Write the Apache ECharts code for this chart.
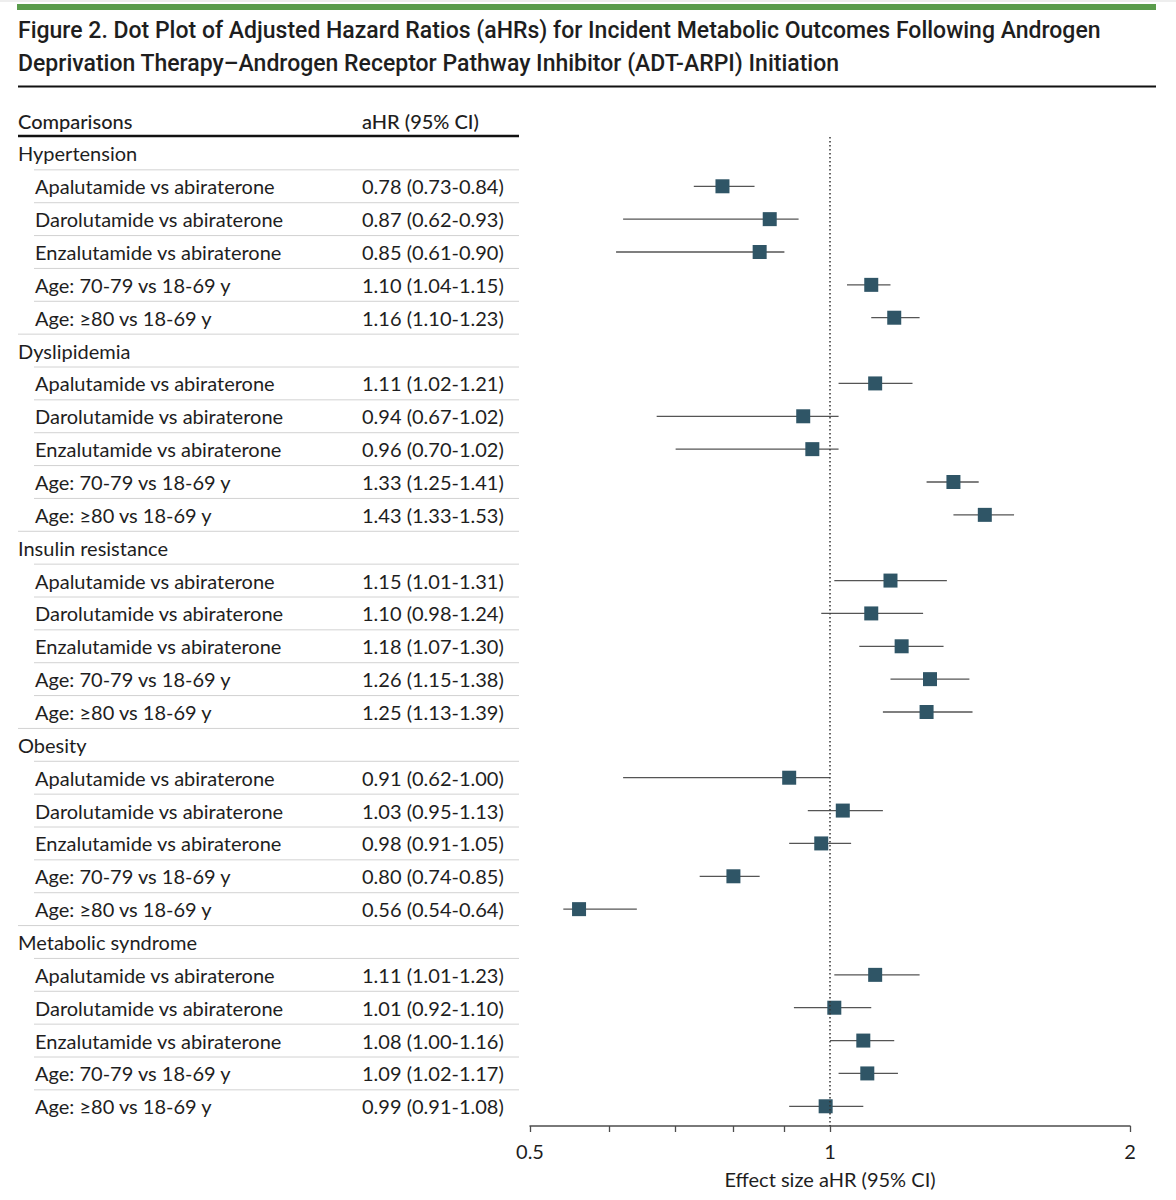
<!DOCTYPE html>
<html>
<head>
<meta charset="utf-8">
<script src="https://cdn.jsdelivr.net/npm/echarts@6/dist/echarts.min.js"></script>
<style>
  html, body { margin: 0; padding: 0; background: #fff; }
  #chart { width: 1176px; height: 1200px; }
</style>
</head>
<body>
<div id="chart"></div>
<script>
  const outcomes = ['Hypertension', 'Dyslipidemia', 'Insulin resistance', 'Obesity', 'Metabolic syndrome']
  const comparisons = ['Apalutamide vs abiraterone', 'Darolutamide vs abiraterone', 'Enzalutamide vs abiraterone',
    'Age: 70-79 vs 18-69 y', 'Age: ≥80 vs 18-69 y']
  // one row per outcome, columns follow comparisons
  const ahr = [
    [0.78, 0.87, 0.85, 1.10, 1.16],
    [1.11, 0.94, 0.96, 1.33, 1.43],
    [1.15, 1.10, 1.18, 1.26, 1.25],
    [0.91, 1.03, 0.98, 0.80, 0.56],
    [1.11, 1.01, 1.08, 1.09, 0.99]
  ]
  const ciLow = [
    [0.73, 0.62, 0.61, 1.04, 1.10],
    [1.02, 0.67, 0.70, 1.25, 1.33],
    [1.01, 0.98, 1.07, 1.15, 1.13],
    [0.62, 0.95, 0.91, 0.74, 0.54],
    [1.01, 0.92, 1.00, 1.02, 0.91]
  ]
  const ciHigh = [
    [0.84, 0.93, 0.90, 1.15, 1.23],
    [1.21, 1.02, 1.02, 1.41, 1.53],
    [1.31, 1.24, 1.30, 1.38, 1.39],
    [1.00, 1.13, 1.05, 0.85, 0.64],
    [1.23, 1.10, 1.16, 1.17, 1.08]
  ]
  const xTickValues = [0.5, 0.6, 0.7, 0.8, 0.9, 1, 2]
  const xTickLabels = [0.5, 1, 2]

  const tableFont = 'Lato, "Open Sans", sans-serif'
  const textColor = '#1e1e1e'

  // flatten into table rows (group header + items) and forest rows
  let tableRows = []
  let forestData = []
  let row = 0
  outcomes.forEach((name, g) => {
    tableRows.push({row: row, item: false, label: name, ci: '', last: false})
    row++
    comparisons.forEach((c, k) => {
      let ci = ahr[g][k].toFixed(2) + ' (' + ciLow[g][k].toFixed(2) + '-' + ciHigh[g][k].toFixed(2) + ')'
      tableRows.push({row: row, item: true, label: c, ci: ci, last: k === comparisons.length - 1})
      forestData.push([row, ahr[g][k], ciLow[g][k], ciHigh[g][k]])
      row++
    })
  })
  const lastRow = row - 1

  function renderTableRow(params, api) {
    let r = tableRows[params.dataIndex]
    let cs = params.coordSys
    let y = api.coord([0, r.row])[1]
    let h = api.size([0, 1])[1]
    let children = [{
      type: 'text',
      style: {
        text: r.label, x: cs.x + (r.item ? 17 : 0), y: y,
        verticalAlign: 'middle', font: '20px ' + tableFont, fill: textColor
      }
    }]
    if (r.item) {
      children.push({
        type: 'text',
        style: {text: r.ci, x: cs.x + 344, y: y, verticalAlign: 'middle', font: '20px ' + tableFont, fill: textColor}
      })
    }
    if (r.row < lastRow) {
      children.push({
        type: 'line',
        shape: {x1: cs.x + (r.last ? 0 : 16), y1: y + h / 2, x2: cs.x + cs.width, y2: y + h / 2},
        style: {stroke: '#d2d2d2', lineWidth: 1}
      })
    }
    return {type: 'group', children: children}
  }

  function renderForest(params, api) {
    let y = api.value(0)
    let p = api.coord([api.value(1), y])
    let lo = api.coord([api.value(2), y])
    let hi = api.coord([api.value(3), y])
    return {
      type: 'group',
      children: [
        {type: 'line', shape: {x1: lo[0], y1: lo[1], x2: hi[0], y2: hi[1]}, style: {stroke: '#555', lineWidth: 1.3}},
        {type: 'rect', shape: {x: p[0] - 7, y: p[1] - 7, width: 14, height: 14}, style: {fill: '#2f5566'}}
      ]
    }
  }

  let chart = echarts.init(document.getElementById('chart'), null, {renderer: 'svg'})
  let option = {
    animation: false,
    title: {
      text: 'Figure 2. Dot Plot of Adjusted Hazard Ratios (aHRs) for Incident Metabolic Outcomes Following Androgen\nDeprivation Therapy–Androgen Receptor Pathway Inhibitor (ADT-ARPI) Initiation',
      left: 18,
      top: 14,
      padding: 0,
      textStyle: {
        fontFamily: 'Roboto, sans-serif',
        fontSize: 23,
        fontWeight: 500,
        lineHeight: 33,
        color: textColor
      }
    },
    graphic: [
      {type: 'line', shape: {x1: 0, y1: 1, x2: 1176, y2: 1}, style: {stroke: '#ddd', lineWidth: 1}},
      {type: 'rect', shape: {x: 17, y: 4, width: 1139, height: 6}, style: {fill: '#5a9c4c'}},
      {type: 'line', shape: {x1: 18, y1: 86.5, x2: 1156, y2: 86.5}, style: {stroke: '#111', lineWidth: 2}},
      {type: 'text', style: {text: 'Comparisons', x: 18, y: 121, verticalAlign: 'middle', font: '500 20px ' + tableFont, fill: textColor}},
      {type: 'text', style: {text: 'aHR (95% CI)', x: 362, y: 121, verticalAlign: 'middle', font: '500 20px ' + tableFont, fill: textColor}},
      {type: 'line', shape: {x1: 18, y1: 136, x2: 519, y2: 136}, style: {stroke: '#111', lineWidth: 2.5}}
    ],
    grid: [
      {left: 18, top: 137, width: 501, height: 989},
      {left: 530, top: 137, width: 600, height: 989}
    ],
    xAxis: [
      {gridIndex: 0, type: 'value', min: 0, max: 1, show: false},
      {
        gridIndex: 1,
        type: 'log',
        logBase: 2,
        min: 0.5,
        max: 2,
        position: 'bottom',
        axisLine: {onZero: false, lineStyle: {color: '#4d4d4d', width: 1.5}},
        axisTick: {inside: false, customValues: xTickValues, length: 6, lineStyle: {color: '#4d4d4d', width: 1.3}},
        axisLabel: {
          customValues: xTickLabels,
          formatter: v => String(v),
          margin: 15,
          fontSize: 20,
          fontFamily: tableFont,
          color: textColor
        },
        splitLine: {show: false},
        name: 'Effect size aHR (95% CI)',
        nameLocation: 'middle',
        nameGap: 43,
        nameTextStyle: {fontSize: 20, fontFamily: tableFont, color: textColor}
      }
    ],
    yAxis: [
      {gridIndex: 0, type: 'value', inverse: true, min: -0.5, max: 29.6, show: false},
      {gridIndex: 1, type: 'value', inverse: true, min: -0.5, max: 29.6, show: false}
    ],
    series: [
      {
        type: 'custom',
        xAxisIndex: 0,
        yAxisIndex: 0,
        renderItem: renderTableRow,
        encode: {y: 0},
        data: tableRows.map(r => [r.row])
      },
      {
        type: 'custom',
        xAxisIndex: 1,
        yAxisIndex: 1,
        renderItem: renderForest,
        encode: {x: [1, 2, 3], y: 0},
        data: forestData,
        markLine: {
          silent: true,
          symbol: 'none',
          label: {show: false},
          lineStyle: {color: '#333', width: 1.5, type: [1.5, 2.5]},
          data: [{xAxis: 1}]
        }
      }
    ]
  }
  window.onresize = chart.resize
  chart.setOption(option)
</script>
</body>
</html>
